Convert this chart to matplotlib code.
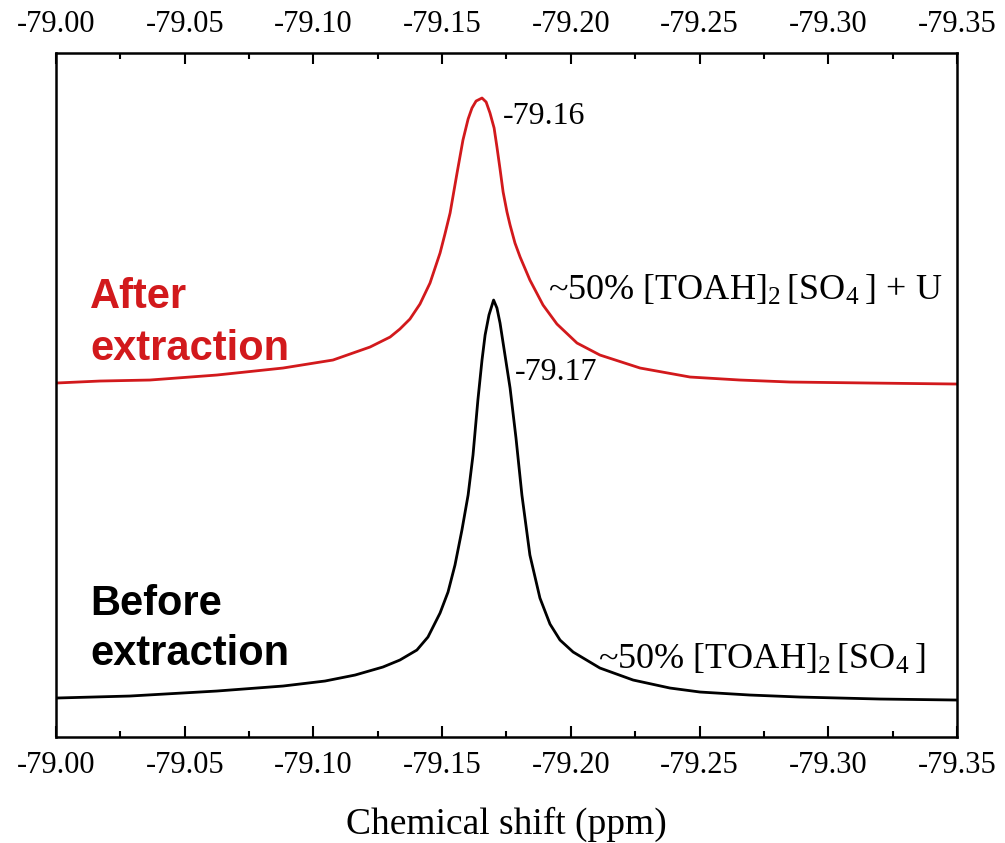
import matplotlib
matplotlib.use("Agg")
import matplotlib.pyplot as plt
from matplotlib.ticker import MultipleLocator

plt.rcParams["font.family"] = ["Liberation Serif", "DejaVu Serif"]
plt.rcParams["mathtext.fontset"] = "custom"
plt.rcParams["mathtext.rm"] = "Liberation Serif"

# NMR spectra: chemical shift (ppm) and intensity above baseline (a.u.)
after_shift = [-79.0000, -79.0171, -79.0365, -79.0625, -79.0882, -79.1076,
               -79.1220, -79.1298, -79.1336, -79.1375, -79.1414, -79.1453,
               -79.1492, -79.1511, -79.1531, -79.1558, -79.1581, -79.1601,
               -79.1616, -79.1632, -79.1655, -79.1671, -79.1686, -79.1702,
               -79.1713, -79.1725, -79.1737, -79.1752, -79.1764, -79.1783,
               -79.1803, -79.1841, -79.1892, -79.1946, -79.2024, -79.2113,
               -79.2269, -79.2463, -79.2657, -79.2852, -79.3162, -79.3500]
after_int = [0.01, 0.03, 0.04, 0.09, 0.16, 0.24,
             0.37, 0.47, 0.55, 0.65, 0.80, 1.01,
             1.31, 1.50, 1.71, 2.11, 2.44, 2.65,
             2.76, 2.83, 2.86, 2.82, 2.71, 2.56,
             2.37, 2.15, 1.92, 1.72, 1.59, 1.41,
             1.27, 1.04, 0.79, 0.60, 0.41, 0.29,
             0.16, 0.07, 0.04, 0.02, 0.01, 0.00]

before_shift = [-79.0000, -79.0287, -79.0625, -79.0882, -79.1045, -79.1162,
                -79.1270, -79.1336, -79.1402, -79.1445, -79.1492, -79.1523,
                -79.1550, -79.1577, -79.1601, -79.1620, -79.1639, -79.1655,
                -79.1667, -79.1682, -79.1700, -79.1713, -79.1725, -79.1737,
                -79.1752, -79.1764, -79.1787, -79.1810, -79.1841, -79.1880,
                -79.1919, -79.1958, -79.2009, -79.2113, -79.2242, -79.2385,
                -79.2502, -79.2696, -79.2890, -79.3201, -79.3500]
before_int = [0.02, 0.04, 0.09, 0.14, 0.19, 0.25,
              0.33, 0.40, 0.50, 0.63, 0.87, 1.08,
              1.35, 1.70, 2.05, 2.45, 3.00, 3.40,
              3.65, 3.85, 4.00, 3.92, 3.77, 3.57,
              3.32, 3.12, 2.62, 2.05, 1.45, 1.02,
              0.76, 0.60, 0.48, 0.32, 0.20, 0.12,
              0.08, 0.05, 0.03, 0.01, 0.00]

after_offset = 3.53
before_offset = 0.37

xticks_major = [-79.00, -79.05, -79.10, -79.15, -79.20, -79.25, -79.30, -79.35]

red = "#d2191c"

fig = plt.figure(figsize=(10.05, 8.43), dpi=100)
ax = fig.add_axes([0.0557, 0.1257, 0.8965, 0.8114])

ax.plot(after_shift, [v + after_offset for v in after_int], color=red, lw=2.0)
ax.plot(before_shift, [v + before_offset for v in before_int], color="black", lw=2.0)

ax.set_xlim(-79.00, -79.35)
ax.set_ylim(0, 6.84)
ax.set_xticks(xticks_major)
ax.set_xticklabels([f"{t:.2f}" for t in xticks_major])
ax.xaxis.set_minor_locator(MultipleLocator(0.025))
ax.set_yticks([])

for s in ax.spines.values():
    s.set_linewidth(1.8)

ax.tick_params(axis="x", which="both", direction="in", top=True, bottom=True,
               labeltop=True, labelbottom=True, labelsize=22, pad=10)
ax.tick_params(axis="x", which="major", length=8, width=1.5)
ax.tick_params(axis="x", which="minor", length=4.5, width=1.5)

ax.set_xlabel("Chemical shift (ppm)", fontsize=27, labelpad=19)

# peak positions
ax.text(-79.1737, 6.21, "-79.16", fontsize=23, va="center", ha="left")
ax.text(-79.1783, 3.65, "-79.17", fontsize=23, va="center", ha="left")

# species labels
ax.text(-79.1911, 4.37,
        r"~50% [TOAH]$\mathregular{_2}\,$[SO$\mathregular{_4}\,$] + U",
        fontsize=26, va="baseline", ha="left")
ax.text(-79.2106, 0.68,
        r"~50% [TOAH]$\mathregular{_2}\,$[SO$\mathregular{_4}\,$]",
        fontsize=26, va="baseline", ha="left")

sans = ["Liberation Sans", "DejaVu Sans"]
ax.text(0.0377, 0.627, "After", transform=ax.transAxes, family=sans,
        fontsize=30, fontweight="bold", color=red, va="baseline")
ax.text(0.0377, 0.551, "extraction", transform=ax.transAxes, family=sans,
        fontsize=30, fontweight="bold", color=red, va="baseline")
ax.text(0.0377, 0.178, "Before", transform=ax.transAxes, family=sans,
        fontsize=30, fontweight="bold", color="black", va="baseline")
ax.text(0.0377, 0.105, "extraction", transform=ax.transAxes, family=sans,
        fontsize=30, fontweight="bold", color="black", va="baseline")

fig.savefig("out.png", dpi=100)
